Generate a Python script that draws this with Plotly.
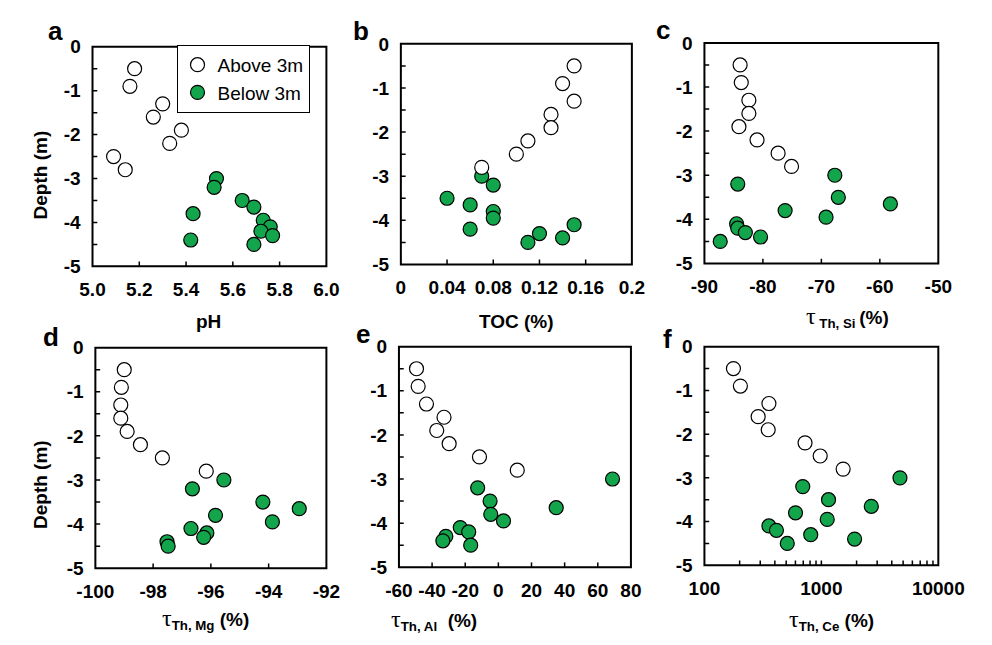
import plotly.graph_objects as go

# ---------------- data ----------------
depth_above = [-0.5, -0.9, -1.3, -1.6, -1.9, -2.2, -2.5, -2.8]
depth_below = [-3.0, -3.2, -3.5, -3.65, -3.8, -3.95, -4.1, -4.2, -4.3, -4.4, -4.5]

ph_above = [5.18, 5.16, 5.30, 5.26, 5.38, 5.33, 5.09, 5.14]
ph_below = [5.53, 5.52, 5.64, 5.69, 5.43, 5.73, 5.76, 5.72, 5.77, 5.42, 5.69]

toc_above = [0.15, 0.14, 0.15, 0.13, 0.13, 0.11, 0.10, 0.07]
toc_below = [0.07, 0.08, 0.04, 0.06, 0.08, 0.08, 0.15, 0.06, 0.12, 0.14, 0.11]

si_above = [-83.9, -83.7, -82.4, -82.4, -84.1, -81.0, -77.4, -75.1]
si_below = [-67.7, -84.3, -67.1, -58.2, -76.2, -69.2, -84.5, -84.3, -83.0, -80.4, -87.3]

mg_above = [-99.0, -99.1, -99.12, -99.12, -98.9, -98.44, -97.68, -96.16]
mg_below = [-95.55, -96.64, -94.2, -92.94, -95.84, -93.87, -96.69, -96.14, -96.25, -97.52, -97.48]

al_above = [-49.4, -48.4, -43.4, -32.8, -37.2, -29.7, -11.4, 11.4]
al_below = [68.9, -12.5, -5.0, 34.9, -4.6, 3.1, -23.0, -17.9, -31.7, -33.5, -16.7]

ce_above = [177, 203, 356, 288, 351, 725, 977, 1535]
ce_below = [4700, 693, 1151, 2673, 601, 1122, 356, 413, 811, 1923, 511]

depth_ticks = [0, -0.5, -1, -1.5, -2, -2.5, -3, -3.5, -4, -4.5, -5]
depth_labels = ["0", " ", "-1", " ", "-2", " ", "-3", " ", "-4", " ", "-5"]

ce_ticks = [100, 200, 300, 400, 500, 600, 700, 800, 900,
            1000, 2000, 3000, 4000, 5000, 6000, 7000, 8000, 9000, 10000]
ce_labels = ["100"] + [" "] * 8 + ["1000"] + [" "] * 8 + ["10000"]

panel_letters = ["a", "b", "c", "d", "e", "f"]
legend_names = ["Above 3m", "Below 3m"]

# ---------------- layout helpers ----------------
W, H = 992, 645
GREEN = "#13A54B"
FONT = "Liberation Sans, Arial, sans-serif"
TICK_PX = 5
CLEAR = "rgba(0,0,0,0)"

# plot rectangles in pixels (left, right, top, bottom)
rects = [
    (77, 322, 38, 265),
    (400, 642, 35, 263),
    (718, 963, 34, 262),
    (80, 322, 349, 577),
    (398, 641, 348, 576),
    (718, 963, 348, 574),
]

xdefs = [
    dict(range=[5.0, 6.0], tickvals=[5.0, 5.2, 5.4, 5.6, 5.8, 6.0],
         ticktext=["5.0", "5.2", "5.4", "5.6", "5.8", "6.0"]),
    dict(range=[0, 0.2], tickvals=[0, 0.04, 0.08, 0.12, 0.16, 0.2],
         ticktext=["0", "0.04", "0.08", "0.12", "0.16", "0.2"]),
    dict(range=[-90, -50], tickvals=[-90, -80, -70, -60, -50],
         ticktext=["-90", "-80", "-70", "-60", "-50"]),
    dict(range=[-100, -92], tickvals=[-100, -98, -96, -94, -92],
         ticktext=["-100", "-98", "-96", "-94", "-92"]),
    dict(range=[-60, 80], tickvals=[-60, -40, -20, 0, 20, 40, 60, 80],
         ticktext=["-60", "-40", "-20", "0", "20", "40", "60", "80"]),
    dict(type="log", range=[2, 4], tickvals=ce_ticks, ticktext=ce_labels),
]

series = [
    (ph_above, ph_below),
    (toc_above, toc_below),
    (si_above, si_below),
    (mg_above, mg_below),
    (al_above, al_below),
    (ce_above, ce_below),
]

fig = go.Figure()
tickfont = dict(family=FONT, size=19, color="black", weight="bold")

axes_layout = {}
shapes = []
for i, (rect, xd, (xa, xb)) in enumerate(zip(rects, xdefs, series)):
    l, r, t, b = rect
    n = "" if i == 0 else str(i + 1)
    xref = "x" + n
    yref = "y" + n
    fig.add_trace(go.Scatter(
        x=xb, y=depth_below, mode="markers", name=legend_names[1],
        marker=dict(size=14, color=GREEN, line=dict(color="black", width=1.2)),
        xaxis=xref, yaxis=yref, showlegend=(i == 0), legendrank=2))
    fig.add_trace(go.Scatter(
        x=xa, y=depth_above, mode="markers", name=legend_names[0],
        marker=dict(size=14, color="white", line=dict(color="black", width=1.2)),
        xaxis=xref, yaxis=yref, showlegend=(i == 0), legendrank=1))
    # invisible outside ticks only set the label gap; visible ticks are drawn below
    xax = dict(domain=[l / W, r / W], anchor=yref, showline=False,
               ticks="outside", ticklen=6, tickcolor=CLEAR, tickwidth=1,
               showgrid=False, zeroline=False,
               tickfont=tickfont, tickmode="array", tickangle=0)
    xax.update(xd)
    yax = dict(domain=[1 - b / H, 1 - t / H], anchor=xref, range=[-5, 0],
               showline=False, ticks="outside", ticklen=7, tickcolor=CLEAR,
               tickwidth=1, showgrid=False, zeroline=False,
               tickfont=tickfont, tickmode="array", tickvals=depth_ticks,
               ticktext=depth_labels)
    axes_layout["xaxis" + n] = xax
    axes_layout["yaxis" + n] = yax

    # frame
    shapes.append(dict(type="rect", xref=xref + " domain", yref=yref + " domain",
                       x0=0, x1=1, y0=0, y1=1, layer="above",
                       line=dict(color="black", width=2)))
    # inside tick marks on bottom axis
    tx = TICK_PX / (b - t)
    for v in xd["tickvals"][1:-1]:
        shapes.append(dict(type="line", xref=xref, yref=yref + " domain",
                           x0=v, x1=v, y0=0, y1=tx, layer="above",
                           line=dict(color="black", width=1.5)))
    # inside tick marks on left axis
    ty = TICK_PX / (r - l)
    for v in depth_ticks[1:-1]:
        shapes.append(dict(type="line", xref=xref + " domain", yref=yref,
                           x0=0, x1=ty, y0=v, y1=v, layer="above",
                           line=dict(color="black", width=1.5)))

fig.update_layout(**axes_layout)

annots = []
letter_pos = [(38, 22), (358, 22), (675, 21), (34, 338), (360, 335), (679, 340)]
for letter, (px, py) in zip(panel_letters, letter_pos):
    annots.append(dict(text=letter, x=px / W, y=1 - py / H, xref="paper", yref="paper",
                       showarrow=False, xanchor="center", yanchor="middle",
                       font=dict(family=FONT, size=26, color="black", weight="bold")))

tfont = dict(family=FONT, size=19, color="black", weight="bold")
tau = "<span style='font-family:Liberation Serif, Times New Roman, serif;font-weight:normal;font-size:24px'>τ</span>"
xtitles = [
    ("pH", 198, 322),
    ("TOC (%)", 521, 322),
    (tau + "<sub> Th, Si </sub>(%)", 868, 317),
    (tau + "<sub>Th, Mg</sub> (%)", 195, 629),
    (tau + "<sub>Th, Al</sub>  (%)", 435, 631),
    (tau + "<sub>Th, Ce</sub> (%)", 851, 631),
]
for txt, px, py in xtitles:
    annots.append(dict(text=txt, x=px / W, y=1 - py / H, xref="paper", yref="paper",
                       showarrow=False, xanchor="center", yanchor="middle", font=tfont))
for py in (171, 491):
    annots.append(dict(text="Depth (m)", x=22 / W, y=1 - py / H, xref="paper", yref="paper",
                       showarrow=False, xanchor="center", yanchor="middle", textangle=-90,
                       font=tfont))

fig.update_layout(
    width=W, height=H, margin=dict(l=0, r=0, t=0, b=0),
    paper_bgcolor="white", plot_bgcolor="white",
    annotations=annots, shapes=shapes,
    legend=dict(x=165 / W, y=1 - 36 / H, xanchor="left", yanchor="top",
                bordercolor="black", borderwidth=1, bgcolor="white",
                font=dict(family=FONT, size=19, color="black"),
                itemwidth=30, tracegroupgap=0),
    showlegend=True,
)

fig.write_html("out.html")
